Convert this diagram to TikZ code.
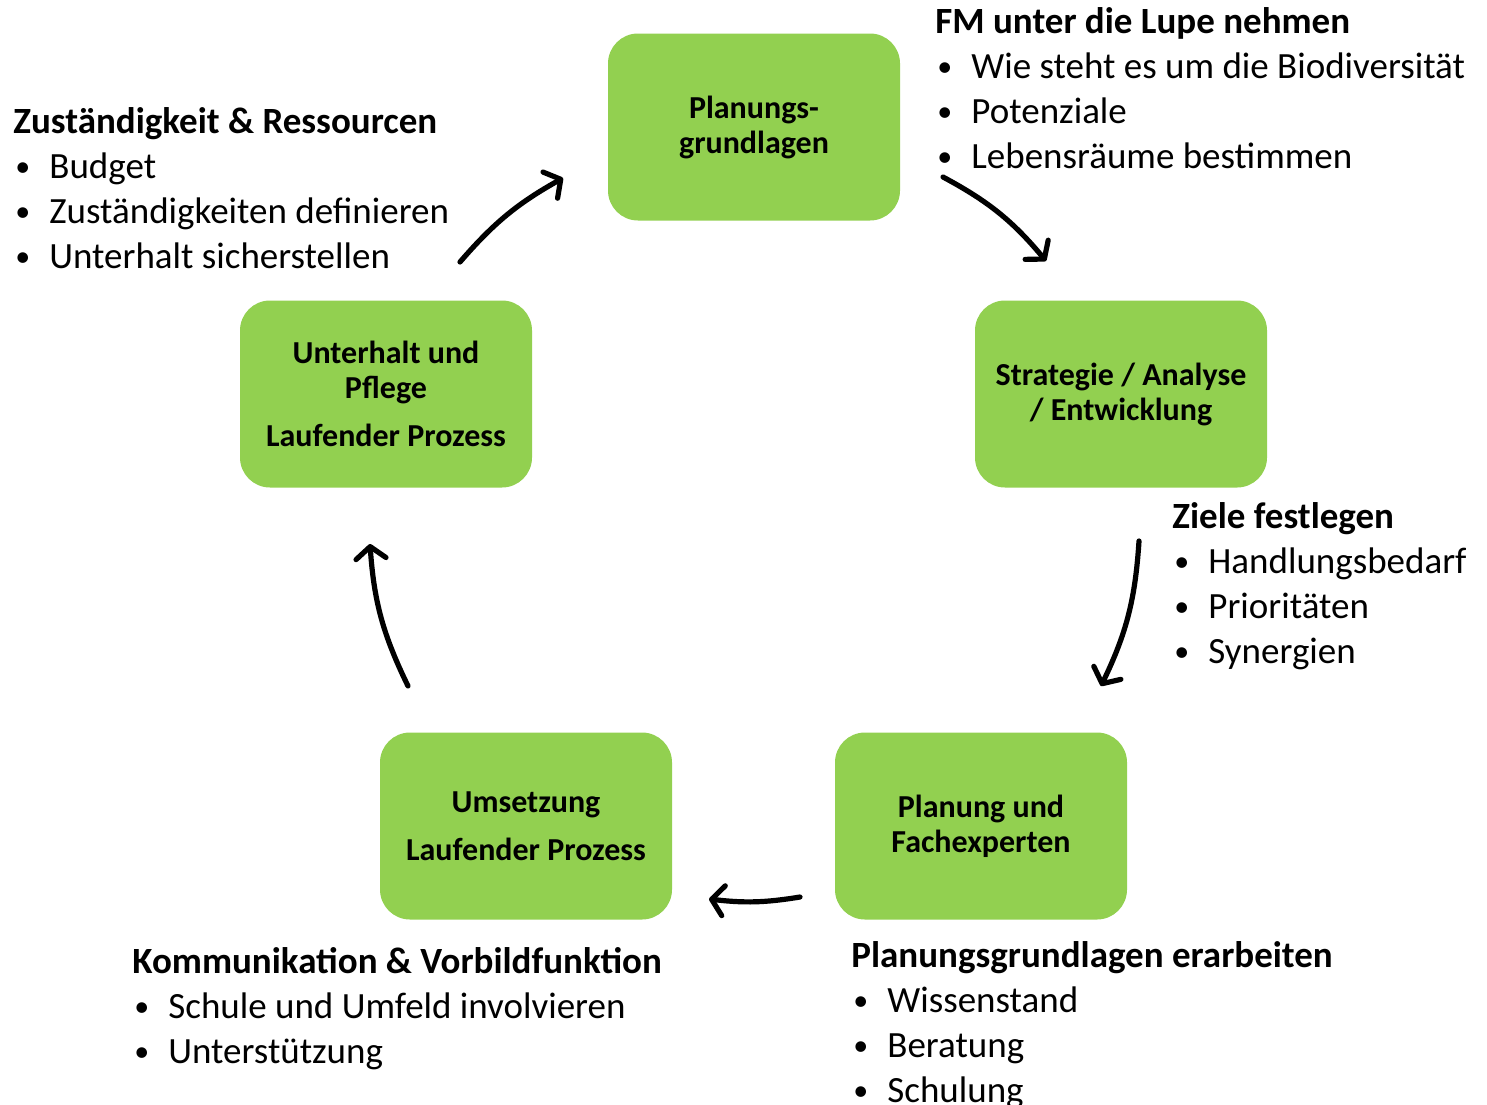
\documentclass[tikz,border=0pt]{standalone}
\usepackage{fontspec}
\setmainfont{Carlito}
\usetikzlibrary{arrows.meta}
\definecolor{boxgreen}{HTML}{92D050}
\newcommand{\punkt}[1]{\hspace*{1pt}\makebox[17pt][l]{\raisebox{1.1pt}{\fontsize{15}{15}\selectfont •}}#1}

\begin{document}
\begin{tikzpicture}[x=0.5pt, y=-0.5pt,
    stepbox/.style={rounded corners=15pt, fill=boxgreen, minimum width=146pt,
        minimum height=93.5pt, align=center, inner sep=2pt,
        font=\bfseries\fontsize{16}{17.5}\selectfont},
    infotext/.style={anchor=north west, inner sep=0pt, align=left,
        font=\fontsize{18.5}{22.5}\selectfont},
    cyclearrow/.style={line width=2.6pt, line cap=round,
        -{Straight Barb[length=6pt, width=15pt, round]}}]
    \useasboundingbox (0,0) rectangle (1487,1104);

    % the five steps
    \node[stepbox] (grundlagen) at (754,127) {Planungs-\\grundlagen};
    \node[stepbox] (strategie) at (1121,394) {Strategie / Analyse\\/ Entwicklung};
    \node[stepbox] (planung) at (981,826) {Planung und\\Fachexperten};
    \node[stepbox] (umsetzung) at (526,826) {Umsetzung\\[6.5pt]Laufender Prozess};
    \node[stepbox] (unterhalt) at (386,394) {Unterhalt und\\Pflege\\[6.5pt]Laufender Prozess};

    % notes
    \node[infotext] (lupe) at (935,7) {\textbf{FM unter die Lupe nehmen}\\
        \punkt{Wie steht es um die Biodiversität}\\
        \punkt{Potenziale}\\
        \punkt{Lebensräume bestimmen}};
    \node[infotext] (ressourcen) at (13,107) {\textbf{Zuständigkeit \& Ressourcen}\\
        \punkt{Budget}\\
        \punkt{Zuständigkeiten definieren}\\
        \punkt{Unterhalt sicherstellen}};
    \node[infotext] (ziele) at (1172,502) {\textbf{Ziele festlegen}\\
        \punkt{Handlungsbedarf}\\
        \punkt{Prioritäten}\\
        \punkt{Synergien}};
    \node[infotext] (erarbeiten) at (851,941) {\textbf{Planungsgrundlagen erarbeiten}\\
        \punkt{Wissenstand}\\
        \punkt{Beratung}\\
        \punkt{Schulung}};
    \node[infotext] (kommunikation) at (132,947) {\textbf{Kommunikation \& Vorbildfunktion}\\
        \punkt{Schule und Umfeld involvieren}\\
        \punkt{Unterstützung}};

    % arrows between the steps
    \coordinate (p1a) at (460,262);
    \coordinate (p1b) at (563,178);
    \coordinate (p2a) at (943,177);
    \coordinate (p2b) at (1046,261);
    \coordinate (p3a) at (1139,541);
    \coordinate (p3b) at (1101,686);
    \coordinate (p4a) at (800,897);
    \coordinate (p4b) at (709,899);
    \coordinate (p5a) at (408,686);
    \coordinate (p5b) at (370,544);
    \draw[cyclearrow] (p1a) to[bend left=10] (p1b);
    \draw[cyclearrow] (p2a) to[bend left=11] (p2b);
    \draw[cyclearrow] (p3a) to[bend left=11] (p3b);
    \draw[cyclearrow] (p4a) to[bend left=8] (p4b);
    \draw[cyclearrow] (p5a) to[bend left=11] (p5b);
\end{tikzpicture}
\end{document}
